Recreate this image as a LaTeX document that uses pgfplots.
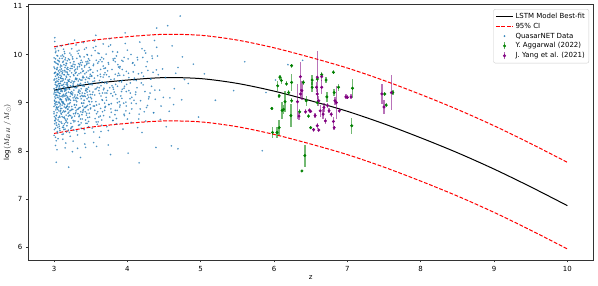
\documentclass[border=0pt]{standalone}
\usepackage{pgfplots}
\pgfplotsset{compat=1.18}
\usepackage{pgfplotstable}
\usepackage{fontspec}
\setmainfont{DejaVu Sans}
\definecolor{mplblue}{HTML}{1F77B4}
\definecolor{mplgreen}{HTML}{008000}
\definecolor{mplpurple}{HTML}{800080}
\pgfplotstableread{
z v e
5.97 8.88 0.04
5.98 8.38 0.12
6.04 8.38 0.12
6.07 8.48 0.15
6.05 9.35 0.10
6.07 9.14 0.05
6.08 9.53 0.05
6.10 9.46 0.08
6.11 8.84 0.17
6.13 8.86 0.10
6.15 9.02 0.22
6.17 9.39 0.05
6.20 9.21 0.06
6.23 8.73 0.24
6.24 9.04 0.05
6.24 9.42 0.17
6.24 9.77 0.04
6.35 8.81 0.05
6.40 9.42 0.06
6.44 9.04 0.10
6.42 7.90 0.23
6.38 7.58 0.00
6.47 8.72 0.04
6.50 8.48 0.03
6.52 9.47 0.10
6.52 9.32 0.10
6.59 9.49 0.06
6.59 9.00 0.06
6.65 9.58 0.05
6.71 9.47 0.06
6.72 9.12 0.10
6.81 9.63 0.04
6.82 9.21 0.08
6.88 9.32 0.07
7.06 8.52 0.17
7.07 9.30 0.20
7.51 9.18 0.05
7.53 8.95 0.04
7.62 9.21 0.06
}\aggarwal
\pgfplotstableread{
z v e
6.36 9.54 0.30
6.32 9.02 0.36
6.38 9.25 0.20
6.36 9.18 0.10
6.34 8.72 0.08
6.43 8.81 0.05
6.48 8.84 0.05
6.50 8.82 0.04
6.54 8.44 0.04
6.56 8.73 0.05
6.58 9.32 0.10
6.59 9.53 0.54
6.59 9.18 0.10
6.61 9.04 0.10
6.61 8.43 0.04
6.63 8.83 0.12
6.65 9.32 0.15
6.65 9.54 0.08
6.67 8.76 0.10
6.68 8.90 0.10
6.70 8.62 0.06
6.59 8.52 0.06
6.73 8.94 0.05
6.75 8.83 0.05
6.78 8.76 0.05
6.81 8.61 0.10
6.82 8.48 0.04
6.83 9.04 0.08
6.85 9.00 0.35
6.89 8.83 0.05
6.98 9.12 0.05
7.00 9.11 0.04
7.05 9.12 0.05
7.47 9.18 0.20
7.50 8.91 0.15
7.60 9.21 0.37
}\yang
\begin{document}
\begin{tikzpicture}
\begin{axis}[
 scale only axis, width=564.6pt, height=255.5pt,
 xmin=2.65, xmax=10.35, ymin=5.73, ymax=11.04,
 xtick={3,4,5,6,7,8,9,10}, ytick={6,7,8,9,10,11},
 tick align=outside, major tick length=2.5pt,
 tick style={black!80, line width=0.5pt},
 axis line style={black!80, line width=0.5pt},
 xtick pos=bottom, ytick pos=left,
 font=\fontsize{7}{8}\selectfont,
 /pgf/number format/assume math mode=true,
 xlabel={z}, ylabel={$\log(M_{BH}\,/\,M_{\odot})$},
 xlabel style={at={(axis description cs:0.5,-0.0685)}, anchor=center},
 ylabel style={at={(axis description cs:-0.0372,0.5)}, anchor=center},
 legend style={at={(0.993,0.982)}, anchor=north east, draw=black!20, rounded corners=2pt,
   fill=white, fill opacity=0.8, text opacity=1, font=\fontsize{7}{8}\selectfont,
   inner sep=2pt, row sep=-1pt},
 legend cell align=left,
]
\addlegendimage{black, line width=1pt}
\addlegendentry{LSTM Model Best-fit}
\addlegendimage{red, dash pattern=on 3.8pt off 1.7pt, line width=1pt}
\addlegendentry{95\% CI}
\addlegendimage{legend image code/.code={\fill[mplblue, opacity=0.8] (0.3cm,0) circle (0.7pt);}}
\addlegendentry{QuasarNET Data}
\addlegendimage{legend image code/.code={\draw[mplgreen, opacity=0.6, line width=1.3pt] (0.3cm,-3.5pt) -- (0.3cm,3.5pt); \fill[mplgreen] (0.3cm,0) circle (1.3pt);}}
\addlegendentry{Y. Aggarwal (2022)}
\addlegendimage{legend image code/.code={\draw[mplpurple, opacity=0.6, line width=1.3pt] (0.3cm,-3.5pt) -- (0.3cm,3.5pt); \fill[mplpurple] (0.3cm,0) circle (1.3pt);}}
\addlegendentry{J. Yang et al. (2021)}

% QuasarNET scatter
\addplot[mplblue, only marks, mark=*, mark size=0.9pt, mark options={draw opacity=0, fill=mplblue, fill opacity=0.8}, forget plot] coordinates {
(3.01,9.12) (3.03,8.74) (3.02,9.55) (3.05,9.81) (3.00,8.92) (3.04,9.33) (3.07,8.51) (3.02,10.04) (3.06,9.27) (3.01,8.63) (3.08,9.68) (3.03,9.02) (3.09,8.88) (3.00,9.47) (3.05,8.37) (3.02,9.91) (3.07,9.14) (3.04,8.79) (3.01,9.62) (3.06,9.39) (3.03,8.21) (3.08,9.06) (3.00,9.74) (3.05,9.22) (3.02,8.47) (3.09,9.51) (3.04,10.16) (3.01,8.98) (3.07,9.85) (3.03,9.31) (3.06,8.69) (3.00,9.18) (3.08,8.93) (3.02,9.42) (3.05,9.97) (3.01,8.56) (3.04,9.59) (3.09,9.24) (3.03,7.76) (3.07,9.01) (3.00,8.81) (3.06,9.66) (3.02,9.09) (3.08,8.42) (3.04,9.45) (3.01,10.27) (3.05,8.86) (3.03,9.36) (3.09,9.78) (3.07,8.61) (3.00,9.29) (3.02,8.11) (3.06,9.53) (3.04,8.96) (3.01,9.71) (3.08,9.19) (3.03,8.73) (3.05,9.88) (3.00,8.32) (3.07,9.40) (3.02,9.63) (3.09,8.84) (3.04,9.15) (3.06,10.08) (3.01,9.03) (3.03,8.58) (3.08,9.57) (3.05,9.26) (3.00,9.93) (3.02,8.68) (3.07,9.34) (3.04,8.02) (3.06,8.91) (3.01,9.49) (3.09,9.07) (3.03,9.82) (3.05,8.49) (3.08,9.30) (3.02,9.16) (3.00,8.77) (3.04,9.70) (3.07,8.99) (3.01,10.35) (3.06,9.21) (3.03,8.89) (3.09,9.44) (3.05,9.60) (3.02,8.28) (3.08,8.70) (3.04,9.98)
(3.11,9.23) (3.14,8.81) (3.12,9.66) (3.17,9.04) (3.13,8.52) (3.19,9.47) (3.15,9.89) (3.11,8.95) (3.16,9.31) (3.18,8.66) (3.12,9.12) (3.14,10.06) (3.10,9.55) (3.17,8.39) (3.13,9.38) (3.19,8.87) (3.15,9.73) (3.11,9.01) (3.16,8.59) (3.18,9.62) (3.12,8.24) (3.14,9.27) (3.10,8.76) (3.17,9.81) (3.13,9.17) (3.19,9.33) (3.15,8.45) (3.11,9.92) (3.16,9.08) (3.18,8.93) (3.12,9.50) (3.14,8.70) (3.10,10.18) (3.17,9.20) (3.13,8.83) (3.19,9.69) (3.15,9.14) (3.11,8.34) (3.16,9.77) (3.18,9.41) (3.12,8.99) (3.14,9.58) (3.10,9.06) (3.17,8.62) (3.13,9.96) (3.19,8.78) (3.15,9.29) (3.11,9.45) (3.16,8.16) (3.18,9.10) (3.12,9.84) (3.14,8.91) (3.10,9.36) (3.17,9.53) (3.13,8.48) (3.20,7.66) (3.15,9.64) (3.11,8.71) (3.16,9.25) (3.18,9.87) (3.12,9.02) (3.14,8.56) (3.10,9.70) (3.17,9.15) (3.13,10.11) (3.19,8.97) (3.15,8.06) (3.11,9.60) (3.16,8.89) (3.18,9.35)
(3.21,9.28) (3.24,8.86) (3.22,9.71) (3.27,9.05) (3.23,8.57) (3.29,9.49) (3.25,9.95) (3.21,8.98) (3.26,9.36) (3.28,8.72) (3.22,9.13) (3.24,10.12) (3.20,9.58) (3.27,8.43) (3.23,9.42) (3.29,8.90) (3.25,9.76) (3.21,9.07) (3.26,8.63) (3.28,9.66) (3.22,8.30) (3.24,9.23) (3.20,8.80) (3.27,9.85) (3.23,9.19) (3.29,9.31) (3.25,8.50) (3.21,9.89) (3.26,9.10) (3.28,8.96) (3.22,9.54) (3.24,8.68) (3.20,10.22) (3.27,9.26) (3.23,8.84) (3.29,9.61) (3.25,9.16) (3.21,8.38) (3.26,9.80) (3.28,9.44) (3.22,9.00) (3.24,9.62) (3.20,9.09) (3.27,8.60) (3.23,9.99) (3.29,8.77) (3.25,9.33) (3.21,9.48) (3.26,8.20) (3.28,9.12) (3.22,9.83) (3.24,8.92) (3.26,9.39) (3.27,9.56) (3.23,8.46) (3.25,7.98) (3.29,9.69) (3.21,8.74) (3.28,10.30) (3.22,9.21)
(3.31,9.31) (3.34,8.89) (3.32,9.74) (3.37,9.08) (3.33,8.61) (3.39,9.52) (3.35,9.97) (3.31,9.02) (3.36,9.40) (3.38,8.75) (3.32,9.16) (3.34,10.09) (3.30,9.63) (3.37,8.47) (3.33,9.45) (3.39,8.93) (3.35,9.79) (3.31,9.11) (3.36,8.66) (3.38,9.70) (3.32,8.33) (3.34,9.26) (3.30,8.83) (3.37,9.88) (3.33,9.22) (3.39,9.35) (3.35,8.54) (3.31,9.92) (3.36,9.13) (3.38,8.99) (3.32,9.57) (3.34,8.71) (3.30,10.20) (3.37,9.29) (3.33,8.87) (3.39,9.65) (3.35,9.19) (3.31,8.41) (3.36,9.83) (3.38,9.47) (3.32,8.05) (3.34,9.60) (3.30,9.05) (3.37,8.58) (3.33,10.02) (3.39,8.80) (3.35,9.37) (3.31,9.50) (3.36,7.86) (3.38,9.15)
(3.41,9.34) (3.44,8.92) (3.42,9.77) (3.47,9.11) (3.43,8.64) (3.49,9.55) (3.45,10.00) (3.41,9.05) (3.46,9.43) (3.48,8.78) (3.42,9.19) (3.44,10.14) (3.40,9.66) (3.47,8.50) (3.43,9.48) (3.49,8.96) (3.45,9.82) (3.41,9.14) (3.46,8.69) (3.48,9.73) (3.42,8.36) (3.44,9.29) (3.40,8.86) (3.47,9.91) (3.43,9.25) (3.49,9.38) (3.45,8.57) (3.41,9.95) (3.46,9.16) (3.48,9.02) (3.42,9.60) (3.44,8.74) (3.40,10.25) (3.47,9.32) (3.43,8.90) (3.49,9.68) (3.45,9.22) (3.41,8.44) (3.46,9.86) (3.48,9.50) (3.42,8.14) (3.44,9.63) (3.45,9.08) (3.47,8.61) (3.43,8.07)
(3.52,9.37) (3.58,8.95) (3.54,9.80) (3.64,9.14) (3.56,8.67) (3.68,9.58) (3.60,10.03) (3.51,9.08) (3.62,9.46) (3.66,8.81) (3.53,9.22) (3.57,10.17) (3.50,9.69) (3.65,8.53) (3.55,9.51) (3.69,8.99) (3.61,9.85) (3.52,9.17) (3.63,8.72) (3.67,9.76) (3.54,8.39) (3.59,9.32) (3.50,8.89) (3.65,9.94) (3.56,9.28) (3.69,9.41) (3.60,8.60) (3.51,9.98) (3.62,9.19) (3.66,9.05) (3.53,9.63) (3.58,8.77) (3.57,10.40) (3.64,9.35) (3.55,8.93) (3.68,9.71) (3.61,9.25) (3.52,8.47) (3.63,9.89) (3.67,9.53) (3.54,8.17) (3.59,9.66) (3.50,9.11) (3.65,8.64) (3.56,10.08) (3.69,8.84) (3.60,9.40) (3.51,9.56) (3.62,8.28) (3.66,9.20) (3.58,8.09) (3.67,10.22) (3.53,9.44) (3.64,8.40) (3.57,9.02) (3.68,9.30) (3.55,10.28) (3.61,8.70) (3.63,9.59) (3.59,8.55)
(3.72,9.40) (3.78,8.98) (3.74,9.83) (3.84,9.17) (3.76,8.70) (3.88,9.61) (3.80,10.06) (3.71,9.11) (3.82,9.49) (3.86,8.84) (3.73,9.25) (3.77,10.20) (3.70,9.72) (3.85,8.56) (3.75,9.54) (3.89,9.02) (3.81,9.88) (3.72,9.20) (3.83,8.75) (3.87,9.79) (3.74,8.42) (3.79,9.35) (3.70,8.92) (3.85,9.97) (3.76,9.31) (3.89,9.44) (3.80,8.63) (3.71,10.01) (3.82,9.22) (3.86,9.08) (3.73,9.66) (3.78,8.80) (3.77,7.92) (3.84,9.38) (3.75,8.96) (3.88,9.74) (3.81,9.28) (3.72,8.50) (3.83,9.92) (3.87,9.56) (3.74,8.12) (3.79,9.69) (3.76,10.33) (3.85,8.67) (3.80,9.14)
(3.92,9.43) (3.98,9.01) (3.94,9.86) (4.04,9.20) (3.96,8.73) (4.08,9.64) (4.00,10.09) (3.91,9.14) (4.02,9.52) (4.06,8.87) (3.93,9.28) (3.97,10.23) (3.90,9.75) (4.05,8.59) (3.95,9.57) (4.09,9.05) (4.01,9.91) (3.92,9.23) (4.03,8.78) (4.07,9.82) (3.94,8.45) (3.99,9.38) (3.90,8.95) (4.05,10.00) (3.96,9.34) (4.09,9.47) (4.00,8.66) (4.01,7.95) (4.02,9.25) (4.06,9.11) (3.93,9.69) (3.98,8.83) (3.97,10.45) (4.04,9.41) (3.95,8.99)
(4.12,9.46) (4.18,9.04) (4.14,9.89) (4.24,9.23) (4.16,8.76) (4.28,9.67) (4.20,10.12) (4.11,9.17) (4.22,9.55) (4.26,8.90) (4.13,9.31) (4.17,10.26) (4.10,9.78) (4.25,8.62) (4.15,9.60) (4.29,9.08) (4.21,9.94) (4.16,7.75) (4.23,8.81) (4.27,9.85) (4.14,8.48) (4.19,9.41) (4.12,8.98) (4.25,10.03) (4.20,8.38)
(4.32,9.49) (4.38,9.07) (4.34,9.92) (4.44,9.26) (4.36,8.79) (4.48,9.70) (4.40,10.15) (4.31,9.20) (4.42,9.58) (4.46,8.93) (4.33,9.34) (4.37,10.29) (4.40,10.55) (4.45,8.65) (4.35,9.63) (4.49,9.11) (4.41,9.97) (4.39,8.07)
(4.52,9.52) (4.58,9.10) (4.55,10.60) (4.64,9.29) (4.57,8.82) (4.69,9.73) (4.61,10.18) (4.53,8.50) (4.66,9.61) (4.72,10.80) (4.60,8.10) (4.69,8.04) (4.75,9.95) (4.78,9.48) (4.63,8.96) (4.74,9.06)
(4.83,9.40) (4.90,9.80) (4.97,8.70) (5.05,9.60) (5.20,9.05) (5.45,9.25) (5.60,9.85) (5.84,8.00)
(6.19,9.79) (6.39,9.88) (6.02,9.47) (5.89,9.21)
(3.005,9.05) (3.015,9.38) (3.025,8.85) (3.035,9.69) (3.045,9.11) (3.055,8.64) (3.065,9.48) (3.075,9.92) (3.085,8.97) (3.095,9.28)
(3.005,8.71) (3.015,9.84) (3.025,9.21) (3.035,8.53) (3.045,9.57) (3.055,9.01) (3.065,8.83) (3.075,9.35) (3.085,9.74) (3.095,8.60)
(3.005,9.61) (3.015,8.95) (3.025,9.43) (3.035,9.16) (3.045,8.40) (3.055,9.79) (3.065,9.10) (3.075,8.72) (3.085,9.52) (3.095,9.97)
(3.005,8.44) (3.015,9.26) (3.025,10.07) (3.035,8.91) (3.045,9.36) (3.055,9.59) (3.065,8.55) (3.075,9.19) (3.085,8.81) (3.095,9.65)
(3.005,9.85) (3.015,8.62) (3.025,9.00) (3.035,9.50) (3.045,9.73) (3.055,8.25) (3.065,9.30) (3.075,9.62) (3.085,9.08) (3.095,8.78)
(3.005,9.22) (3.015,10.12) (3.025,8.66) (3.035,9.25) (3.045,8.89) (3.055,9.44) (3.065,9.87) (3.075,8.46) (3.085,9.40) (3.095,9.13)
(3.105,9.50) (3.115,8.80) (3.125,9.31) (3.135,9.79) (3.145,8.67) (3.155,9.18) (3.165,9.55) (3.175,8.92) (3.185,9.73) (3.195,9.06)
(3.105,8.88) (3.115,9.62) (3.125,9.00) (3.135,8.44) (3.145,9.42) (3.155,9.93) (3.165,8.74) (3.175,9.28) (3.185,8.58) (3.195,9.45)
(3.105,9.25) (3.115,9.99) (3.125,8.69) (3.135,9.14) (3.145,9.67) (3.155,8.82) (3.165,9.38) (3.175,9.70) (3.185,9.12) (3.195,8.72)
(3.105,8.57) (3.115,9.15) (3.125,9.86) (3.135,9.33) (3.145,8.96) (3.155,9.49) (3.165,9.06) (3.175,8.52) (3.185,9.59) (3.195,9.91)
(3.105,9.76) (3.115,8.49) (3.125,9.47) (3.135,8.98) (3.145,9.24) (3.155,8.64) (3.165,9.82) (3.175,9.41) (3.185,8.86) (3.195,9.22)
(3.105,9.03) (3.115,9.36) (3.125,8.35) (3.135,9.58) (3.145,10.02) (3.155,9.27) (3.165,8.90) (3.175,9.64) (3.185,9.37) (3.195,8.43)
(3.205,9.44) (3.215,8.83) (3.225,9.35) (3.235,9.76) (3.245,8.70) (3.255,9.20) (3.265,9.58) (3.275,8.95) (3.285,9.79) (3.295,9.09)
(3.205,8.91) (3.215,9.66) (3.225,9.05) (3.235,8.49) (3.245,9.45) (3.255,9.91) (3.265,8.77) (3.275,9.32) (3.285,8.62) (3.295,9.51)
(3.205,9.29) (3.215,10.03) (3.225,8.73) (3.235,9.18) (3.245,9.71) (3.255,8.86) (3.265,9.43) (3.275,9.74) (3.285,9.16) (3.295,8.79)
(3.305,9.48) (3.315,8.86) (3.325,9.38) (3.335,9.81) (3.345,8.74) (3.355,9.24) (3.365,9.62) (3.375,8.99) (3.385,9.84) (3.395,9.13)
(3.305,8.95) (3.315,9.70) (3.325,9.09) (3.335,8.53) (3.345,9.49) (3.355,9.95) (3.365,8.81) (3.375,9.36) (3.385,8.66) (3.395,9.55)
(3.305,9.33) (3.315,10.07) (3.325,8.77) (3.335,9.22) (3.345,9.75) (3.355,8.90) (3.365,9.47) (3.375,9.78) (3.385,9.20) (3.395,8.83)
(3.405,9.52) (3.415,8.90) (3.425,9.42) (3.435,9.85) (3.445,8.78) (3.455,9.28) (3.465,9.66) (3.475,9.03) (3.485,9.88) (3.495,9.17)
(3.405,8.99) (3.415,9.74) (3.425,9.13) (3.435,8.57) (3.445,9.53) (3.455,9.99) (3.465,8.85) (3.475,9.40) (3.485,8.70) (3.495,9.59)
(3.405,9.37) (3.415,10.11) (3.425,8.81) (3.435,9.26) (3.445,9.79) (3.455,8.94) (3.465,9.51) (3.475,9.82) (3.485,9.24) (3.495,8.87)
(3.515,9.55) (3.535,8.93) (3.555,9.45) (3.575,9.88) (3.595,8.81) (3.615,9.31) (3.635,9.69) (3.655,9.06) (3.675,9.91) (3.695,9.20)
(3.515,9.02) (3.535,9.77) (3.555,9.16) (3.575,8.60) (3.595,9.56) (3.615,10.02) (3.635,8.88) (3.655,9.43) (3.675,8.73) (3.695,9.62)
(3.515,9.40) (3.535,10.14) (3.555,8.84) (3.575,9.29) (3.595,9.82) (3.615,8.97) (3.635,9.54) (3.655,9.85) (3.675,9.27) (3.695,8.90)
(3.715,9.58) (3.745,8.96) (3.775,9.48) (3.805,9.91) (3.835,8.84) (3.865,9.34) (3.895,9.72) (3.925,9.09) (3.955,9.94) (3.985,9.23)
(3.715,9.05) (3.745,9.80) (3.775,9.19) (3.805,8.63) (3.835,9.59) (3.865,10.05) (3.895,8.91) (3.925,9.46) (3.955,8.76) (3.985,9.65)
(3.715,9.43) (3.745,10.17) (3.775,8.87) (3.805,9.32) (3.835,9.85) (3.865,9.00) (3.895,9.57) (3.925,9.88) (3.955,9.30) (3.985,8.93)
(4.015,9.61) (4.055,8.99) (4.095,9.51) (4.135,9.94) (4.175,8.87) (4.215,9.37) (4.255,9.75) (4.295,9.12) (4.335,9.97) (4.375,9.26)
(4.035,9.08) (4.075,9.83) (4.115,9.22) (4.155,8.66) (4.195,9.62) (4.235,10.08) (4.275,8.94) (4.315,9.49) (4.355,8.79) (4.395,9.68)
};

% best fit and CI
\addplot[black, line width=1pt, smooth, forget plot] coordinates {
(3.0,9.26) (3.5,9.39) (4.0,9.47) (4.5,9.52) (5.0,9.50) (5.5,9.40) (6.0,9.24) (6.5,9.04) (7.0,8.82) (7.5,8.56) (8.0,8.27) (8.5,7.96) (9.0,7.62) (9.5,7.25) (10.0,6.86)};
\addplot[red, line width=1pt, dash pattern=on 3.8pt off 1.7pt, smooth, forget plot] coordinates {
(3.0,10.16) (3.5,10.29) (4.0,10.37) (4.5,10.42) (5.0,10.40) (5.5,10.30) (6.0,10.14) (6.5,9.94) (7.0,9.72) (7.5,9.46) (8.0,9.17) (8.5,8.86) (9.0,8.52) (9.5,8.15) (10.0,7.76)};
\addplot[red, line width=1pt, dash pattern=on 3.8pt off 1.7pt, smooth, forget plot] coordinates {
(3.0,8.36) (3.5,8.49) (4.0,8.57) (4.5,8.62) (5.0,8.60) (5.5,8.50) (6.0,8.34) (6.5,8.14) (7.0,7.92) (7.5,7.66) (8.0,7.37) (8.5,7.06) (9.0,6.72) (9.5,6.35) (10.0,5.96)};

% error bar data
\addplot[mplgreen, only marks, mark=*, mark size=1.3pt, mark options={draw=mplgreen, fill=mplgreen}, forget plot,
  error bars/.cd, y dir=both, y explicit, error mark=none,
  error bar style={mplgreen, line width=1.4pt, opacity=0.55}]
  table[x=z, y=v, y error=e] {\aggarwal};
\addplot[mplpurple, only marks, mark=*, mark size=1.3pt, mark options={draw=mplpurple, fill=mplpurple}, forget plot,
  error bars/.cd, y dir=both, y explicit, error mark=none,
  error bar style={mplpurple, line width=1.4pt, opacity=0.55}]
  table[x=z, y=v, y error=e] {\yang};
\end{axis}
\pgfresetboundingbox
\path[use as bounding box] ([xshift=-28.4pt,yshift=-26pt]current axis.south west) rectangle ([xshift=5pt,yshift=4.5pt]current axis.north east);
\end{tikzpicture}
\end{document}
